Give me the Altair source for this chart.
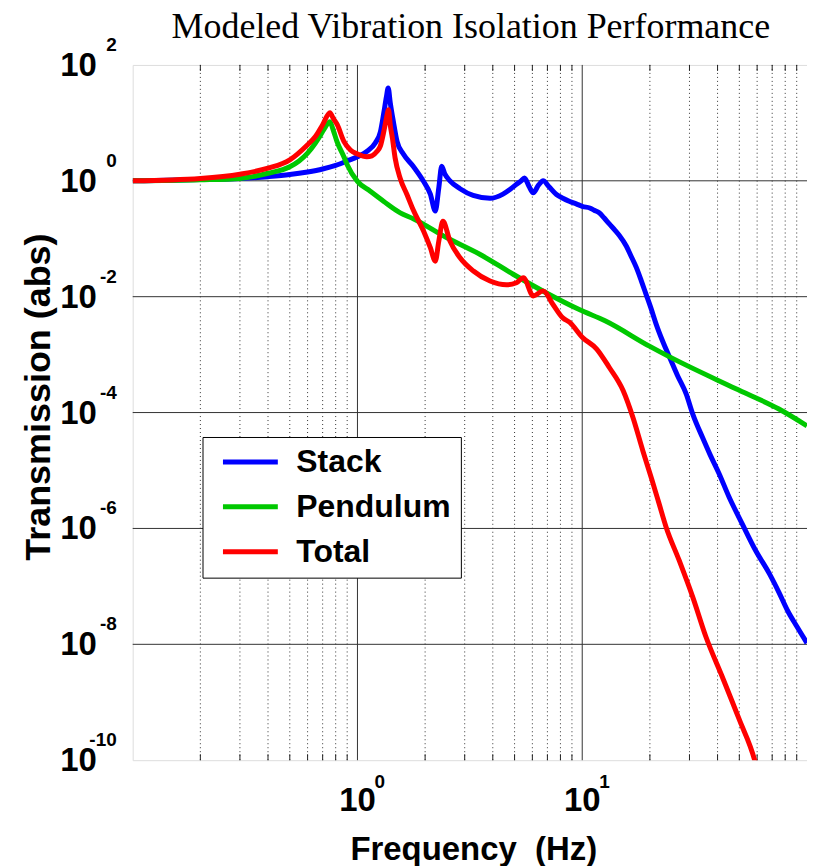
import altair as alt
import pandas as pd

# ---------------- data ----------------
series_names = ["Stack", "Pendulum", "Total"]
series_colors = ["#0000ff", "#00c800", "#ff0000"]

stack_f = [0.1, 0.2, 0.3, 0.4, 0.5, 0.6, 0.7, 0.8, 0.9, 1.0, 1.1, 1.2, 1.265, 1.31,
           1.345, 1.37, 1.40, 1.445, 1.5, 1.6, 1.77, 1.96, 2.11, 2.22, 2.30, 2.37,
           2.45, 2.58, 2.86, 3.27, 3.89, 4.44, 4.8, 5.1, 5.35, 5.53, 5.8, 6.05, 6.4,
           6.7, 7.1, 7.68, 8.2, 8.8, 9.4, 10.06, 10.8, 11.3, 11.9, 12.5, 13.2, 14.0,
           14.6, 15.7, 16.5, 17.4, 18.3, 19.2, 20.2, 21.3, 22.8, 24.5, 26.5, 29.0,
           31.0, 34.3, 37.0, 40.6, 45.0, 51.5, 59.0, 68.0, 75.0, 82.0, 90.0, 100.0]
stack_t = [1.0, 1.05, 1.1, 1.18, 1.28, 1.42, 1.6, 1.85, 2.2, 2.6, 3.2, 4.5, 7.0, 15.0,
           28.0, 40.0, 22.0, 10.5, 4.8, 2.9, 1.78, 1.0, 0.59, 0.30, 0.75, 1.78,
           1.3, 1.0, 0.73, 0.56, 0.5, 0.59, 0.72, 0.87, 1.0, 1.12, 0.8, 0.62, 0.85,
           1.0, 0.8, 0.58, 0.5, 0.44, 0.4, 0.36, 0.34, 0.31, 0.28, 0.23, 0.18, 0.14,
           0.115, 0.075, 0.05, 0.032, 0.019, 0.0112, 6.4e-3, 3.4e-3, 1.7e-3, 8.9e-4, 4.4e-4, 2.1e-4,
           9.5e-5, 3.7e-5, 1.9e-5, 8.9e-6, 3.5e-6, 1.2e-6, 4.2e-7, 1.66e-7, 7.9e-8, 3.8e-8, 2.05e-8, 1.05e-8]

pend_f = [0.1, 0.2, 0.3, 0.4, 0.5, 0.55, 0.6, 0.65, 0.686, 0.72, 0.754, 0.78, 0.81,
          0.87, 0.9, 1.0, 1.14, 1.31, 1.55, 1.78, 2.5, 3.5, 4.93, 6.9, 9.7, 12.7,
          19.9, 24.0, 48.0, 75.0, 100.0]
pend_t = [1.0, 1.04, 1.1, 1.35, 1.75, 2.2, 3.0, 4.5, 6.2, 8.5, 10.5, 7.5, 4.8,
          2.6, 1.9, 0.98, 0.66, 0.44, 0.28, 0.22, 0.104, 0.054, 0.0244, 0.0117, 6.0e-3, 3.8e-3,
          1.4e-3, 9.5e-4, 2.6e-4, 1.15e-4, 5.9e-5]

total_f = [0.1, 0.2, 0.3, 0.4, 0.5, 0.6, 0.65, 0.7, 0.754, 0.78, 0.813, 0.87, 0.93,
           1.0, 1.1, 1.16, 1.22, 1.265, 1.31, 1.345, 1.375, 1.40, 1.43, 1.47, 1.55,
           1.66, 1.78, 1.97, 2.11, 2.22, 2.30, 2.40, 2.58, 2.86, 3.28, 3.89, 4.6,
           5.1, 5.47, 6.06, 6.7, 7.4, 8.2, 8.8, 10.0, 11.6, 13.2, 15.2, 16.8, 18.6,
           20.4, 21.9, 23.6, 27.0, 31.0, 35.5, 42.4, 50.0, 58.5, 62.0]
total_t = [1.0, 1.1, 1.3, 1.65, 2.3, 4.2, 5.8, 9.3, 15.0, 12.0, 9.3, 4.8, 3.4,
           2.9, 2.6, 2.7, 3.2, 4.0, 7.1, 12.0, 16.8, 9.0, 5.5, 2.5, 1.1,
           0.58, 0.30, 0.135, 0.07, 0.041, 0.09, 0.2, 0.091, 0.047, 0.0277, 0.0186, 0.016,
           0.0174, 0.0213, 0.0103, 0.0126, 7.4e-3, 4.3e-3, 3.6e-3, 2.0e-3, 1.25e-3, 6.0e-4, 2.4e-4, 8.3e-5, 2.2e-5,
           7.0e-6, 2.8e-6, 1.06e-6, 2.8e-7, 6.6e-8, 1.35e-8, 2.5e-9, 5.0e-10, 1.0e-10, 4.0e-11]

major_x = [1, 10]
minor_x = [0.2, 0.3, 0.4, 0.5, 0.6, 0.7, 0.8, 0.9,
           2, 3, 4, 5, 6, 7, 8, 9,
           20, 30, 40, 50, 60, 70, 80, 90]
grid_y = [1e0, 1e-2, 1e-4, 1e-6, 1e-8]

ytick_vals = [1e2, 1e0, 1e-2, 1e-4, 1e-6, 1e-8, 1e-10]
ytick_exp = ["2", "0", "-2", "-4", "-6", "-8", "-10"]
xtick_vals = [1, 10]
xtick_exp = ["0", "1"]
tick_base = "10"

title_text = "Modeled Vibration Isolation Performance"
x_title = "Frequency \u00a0(Hz)"
y_title = "Transmission (abs)"

# ---------------- styling ----------------
SANS = "Liberation Sans"
SERIF = "Liberation Serif"
W, H = 676, 697

xs = alt.Scale(type="log", domain=[0.1, 100], nice=False)
ys = alt.Scale(type="log", domain=[1e-10, 100], nice=False)

legend = alt.Legend(
    title=None, orient="none", legendX=70, legendY=373, direction="vertical",
    labelFont=SANS, labelFontSize=32, labelFontWeight="bold", labelColor="black",
    symbolType="stroke", symbolStrokeWidth=5, symbolSize=3025,
    strokeColor="black", fillColor="white", padding=10, symbolOffset=8,
    labelOffset=16, rowPadding=13, clipHeight=30, labelLimit=400,
)
color = alt.Color("series:N",
                  scale=alt.Scale(domain=series_names, range=series_colors),
                  legend=legend)

# grid
vminor = alt.Chart(pd.DataFrame({"gx": minor_x})).mark_rule(
    color="#333333", strokeWidth=1, strokeDash=[1, 3]).encode(
    x=alt.X("gx:Q", scale=xs, axis=None))
vmajor = alt.Chart(pd.DataFrame({"gx": major_x})).mark_rule(
    color="#333333", strokeWidth=1).encode(x=alt.X("gx:Q", scale=xs, axis=None))
hgrid = alt.Chart(pd.DataFrame({"gy": grid_y})).mark_rule(
    color="#333333", strokeWidth=1).encode(y=alt.Y("gy:Q", scale=ys, axis=None))
tick_bot = alt.Chart(pd.DataFrame({"gx": minor_x})).mark_rule(
    color="#222222", strokeWidth=1).encode(
    x=alt.X("gx:Q", scale=xs, axis=None), y=alt.value(H - 6), y2=alt.value(H))
tick_top = alt.Chart(pd.DataFrame({"gx": minor_x})).mark_rule(
    color="#222222", strokeWidth=1).encode(
    x=alt.X("gx:Q", scale=xs, axis=None), y=alt.value(0), y2=alt.value(6))


def line(name, f, t):
    df = pd.DataFrame({"f": f, "t": t, "series": name})
    return alt.Chart(df).mark_line(strokeWidth=5, clip=True, strokeJoin="round",
                                   interpolate="monotone").encode(
        x=alt.X("f:Q", scale=xs, axis=None),
        y=alt.Y("t:Q", scale=ys, axis=None),
        color=color,
    )


lines = [line("Stack", stack_f, stack_t),
         line("Pendulum", pend_f, pend_t),
         line("Total", total_f, total_t)]

# tick labels (10 with superscript exponent)
ylab = pd.DataFrame({"v": ytick_vals, "e": ytick_exp, "b": tick_base})
xlab = pd.DataFrame({"v": xtick_vals, "e": xtick_exp, "b": tick_base})

y_base = alt.Chart(ylab).mark_text(align="right", baseline="middle", font=SANS,
                                   fontSize=33, fontWeight="bold", color="black", dy=1).encode(
    y=alt.Y("v:Q", scale=ys, axis=None), x=alt.value(-36), text="b:N")
y_exp = alt.Chart(ylab).mark_text(align="right", baseline="alphabetic", font=SANS,
                                  fontSize=19, fontWeight="bold", color="black", dy=-14).encode(
    y=alt.Y("v:Q", scale=ys, axis=None), x=alt.value(-16), text="e:N")
x_base = alt.Chart(xlab).mark_text(align="center", baseline="middle", font=SANS,
                                   fontSize=33, fontWeight="bold", color="black").encode(
    x=alt.X("v:Q", scale=xs, axis=None), y=alt.value(H + 41), text="b:N")
x_exp = alt.Chart(xlab).mark_text(align="left", baseline="alphabetic", font=SANS,
                                  fontSize=19, fontWeight="bold", color="black", dx=17).encode(
    x=alt.X("v:Q", scale=xs, axis=None), y=alt.value(H + 28), text="e:N")

# titles as text
ttl = pd.DataFrame({"t": [title_text]})
xt = pd.DataFrame({"t": [x_title]})
yt = pd.DataFrame({"t": [y_title]})
title_mark = alt.Chart(ttl).mark_text(align="center", baseline="alphabetic", font=SERIF,
                                      fontSize=36, color="black").encode(
    x=alt.value(W / 2 + 1), y=alt.value(-27), text="t:N")
xtitle_mark = alt.Chart(xt).mark_text(align="center", baseline="alphabetic", font=SANS,
                                      fontSize=33, fontWeight="bold", color="black").encode(
    x=alt.value(342), y=alt.value(H + 100), text="t:N")
ytitle_mark = alt.Chart(yt).mark_text(align="center", baseline="alphabetic", font=SANS,
                                      fontSize=36, fontWeight="bold", color="black",
                                      angle=270).encode(
    x=alt.value(-83), y=alt.value(333), text="t:N")

chart = alt.layer(
    vminor, vmajor, hgrid, tick_bot, tick_top, *lines, y_base, y_exp, x_base, x_exp,
    title_mark, xtitle_mark, ytitle_mark
).properties(
    width=W, height=H,
    autosize=alt.AutoSizeParams(type="none"),
    padding={"left": 125, "top": 56, "right": 0, "bottom": 105},
).configure_view(
    stroke="#7a7a7a", strokeWidth=1.5
).configure(background="white")

chart.save("out.html", embed_options={"renderer": "svg", "actions": False})
